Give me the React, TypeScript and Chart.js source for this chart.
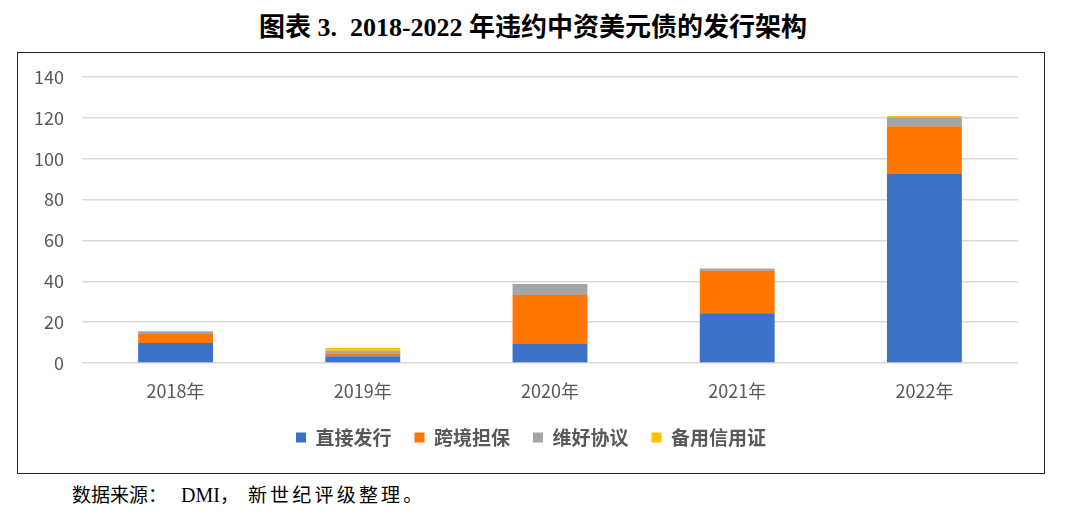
import React, { useEffect, useRef } from "react";
import { Chart, registerables } from "chart.js";

Chart.register(...registerables);

const categories = ["2018年", "2019年", "2020年", "2021年", "2022年"];
const directIssue = [9.8, 3.3, 9.3, 24.3, 92.5];
const crossBorderGuarantee = [4.4, 1.5, 24.0, 20.7, 23.4];
const keepwell = [1.3, 1.2, 5.4, 1.3, 4.4];
const standbyLC = [0, 1.4, 0, 0, 0.6];
const yTicks = { min: 0, max: 140, step: 20 };

const seriesNames = ["直接发行", "跨境担保", "维好协议", "备用信用证"];
const seriesColors = ["#3C71C8", "#FF7700", "#A5A5A5", "#FFC000"];

const cjk = '"Noto Sans CJK SC", "Noto Sans", sans-serif';
const serif = '"Liberation Serif", "Noto Sans CJK SC", serif';

export default function App() {
  const ref = useRef<HTMLCanvasElement | null>(null);

  useEffect(() => {
    if (!ref.current) return;
    const values = [directIssue, crossBorderGuarantee, keepwell, standbyLC];
    const chart = new Chart(ref.current, {
      type: "bar",
      data: {
        labels: categories,
        datasets: values.map((v, i) => ({
          label: seriesNames[i],
          data: v,
          backgroundColor: seriesColors[i],
          borderWidth: 0,
          categoryPercentage: 1,
          barPercentage: 0.4,
        })),
      },
      options: {
        animation: false,
        responsive: false,
        maintainAspectRatio: false,
        devicePixelRatio: 1,
        layout: { padding: { top: 24, right: 0, left: 0, bottom: 16 } },
        plugins: {
          tooltip: { enabled: false },
          title: { display: false },
          legend: {
            position: "bottom",
            labels: {
              boxWidth: 10,
              boxHeight: 10,
              padding: 23,
              color: "#595959",
              font: { family: cjk, size: 19, weight: "bold" },
            },
          },
        },
        scales: {
          x: {
            stacked: true,
            grid: { display: false, drawTicks: false },
            border: { display: false },
            ticks: {
              color: "#595959",
              padding: 17,
              font: { family: cjk, size: 18 },
            },
            afterFit: (s: any) => {
              s.height = 42;
            },
          },
          y: {
            stacked: true,
            min: yTicks.min,
            max: yTicks.max,
            grid: { color: "#D9D9D9", lineWidth: 1.5, drawTicks: false },
            border: { display: false },
            ticks: {
              stepSize: yTicks.step,
              color: "#595959",
              padding: 18,
              font: { family: cjk, size: 18 },
            },
            afterFit: (s: any) => {
              s.width = 64;
              s.paddingTop = 0;
              s.paddingBottom = 0;
            },
          },
          yRightSpacer: {
            type: "linear",
            position: "right",
            display: true,
            grid: { display: false, drawTicks: false },
            border: { display: false },
            ticks: { display: false },
            afterFit: (s: any) => {
              s.width = 26;
              s.paddingTop = 0;
              s.paddingBottom = 0;
            },
          },
        },
      },
    });
    return () => chart.destroy();
  }, []);

  return (
    <div style={{ position: "absolute", left: 0, top: 0, width: 1066, height: 518, background: "#fff" }}>
      <div
        style={{
          position: "absolute",
          left: 0,
          top: 12,
          width: 1066,
          textAlign: "center",
          fontFamily: serif,
          fontWeight: "bold",
          fontSize: 26,
          lineHeight: "32px",
          color: "#000",
        }}
      >
        图表 3.&nbsp; 2018-2022 年违约中资美元债的发行架构
      </div>
      <div
        style={{
          position: "absolute",
          left: 17,
          top: 52,
          width: 1026,
          height: 420,
          border: "1.5px solid #222",
        }}
      >
        <canvas ref={ref} width={1026} height={420} style={{ display: "block", width: 1026, height: 420 }} />
      </div>
      <div
        style={{
          position: "absolute",
          left: 72,
          top: 482,
          fontFamily: serif,
          fontSize: 19,
          lineHeight: "26px",
          color: "#000",
          whiteSpace: "nowrap",
        }}
      >
        <span>数据来源：</span>
        <span style={{ marginLeft: 14, fontSize: 20 }}>DMI</span>
        <span>，</span>
        <span style={{ marginLeft: 9, letterSpacing: 3.2 }}>新世纪评级整理。</span>
      </div>
    </div>
  );
}
